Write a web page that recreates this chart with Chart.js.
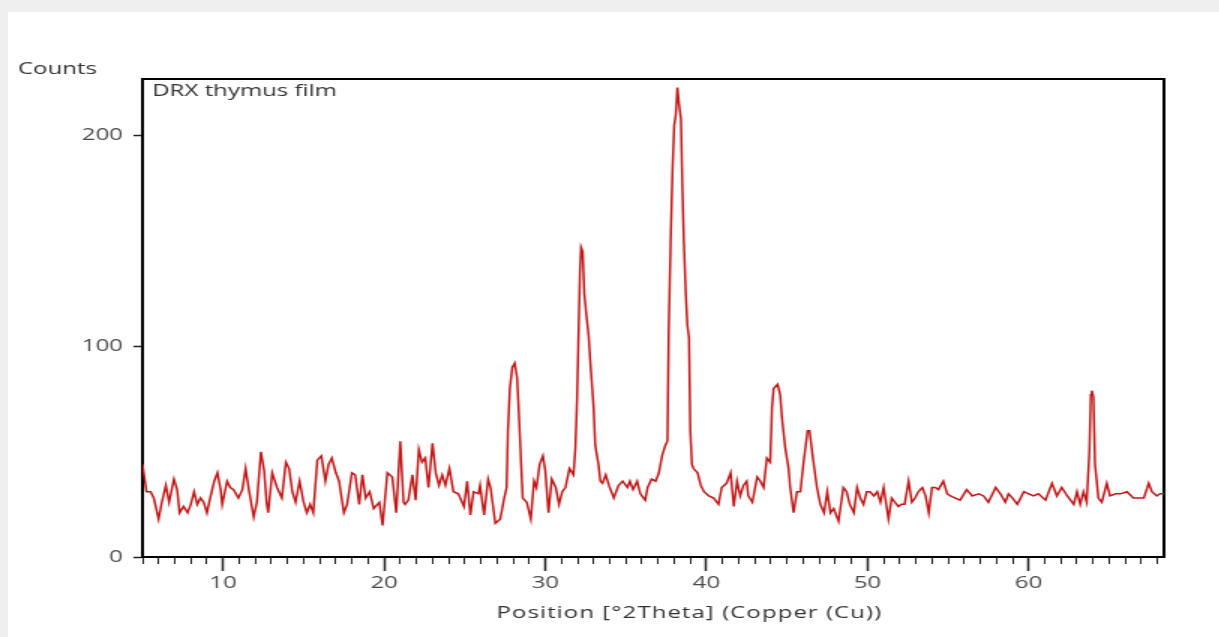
<!DOCTYPE html>
<html>
<head>
<meta charset="utf-8">
<script src="https://cdn.jsdelivr.net/npm/chart.js@4.4.1/dist/chart.umd.min.js"></script>
<style>
  html, body { margin: 0; padding: 0; background: #efefef; }
  body { width: 1219px; height: 637px; position: relative; overflow: hidden; }
  #panel { position: absolute; left: 8px; top: 12px; right: 0; bottom: 0; background: #fff; }
  /* the reference is a screenshot stretched sideways, so the canvas is too */
  #myChart { position: absolute; left: 0; top: 0; transform: scaleX(1.5); transform-origin: 0 0; }
</style>
</head>
<body>
<div id="panel"></div>
<canvas id="myChart" width="813" height="637"></canvas>
<script>
// 2Theta positions (deg) and counts
const positions = [
  5.0, 5.25, 5.5, 5.7, 6.0, 6.2, 6.45, 6.65, 6.95, 7.15, 7.3, 7.55, 7.8, 8.0, 8.2, 8.4, 8.6, 8.8, 9.0, 9.2,
  9.45, 9.65, 9.85, 9.95, 10.25, 10.45, 10.65, 10.95, 11.2, 11.4, 11.6, 11.9, 12.1, 12.35, 12.55, 12.7, 12.8, 13.05, 13.35, 13.65,
  13.9, 14.1, 14.3, 14.5, 14.75, 15.0, 15.2, 15.4, 15.6, 15.85, 16.1, 16.35, 16.55, 16.75, 17.0, 17.2, 17.5, 17.7, 18.0, 18.2,
  18.45, 18.65, 18.85, 19.1, 19.35, 19.7, 19.9, 20.2, 20.5, 20.75, 21.0, 21.2, 21.3, 21.5, 21.75, 21.95, 22.15, 22.35, 22.55, 22.75,
  23.0, 23.2, 23.4, 23.6, 23.8, 24.05, 24.3, 24.6, 24.95, 25.15, 25.35, 25.55, 25.85, 25.95, 26.2, 26.45, 26.6, 26.9, 27.2, 27.45,
  27.6, 27.68, 27.8, 27.95, 28.1, 28.25, 28.35, 28.5, 28.6, 28.85, 29.1, 29.3, 29.45, 29.65, 29.85, 30.0, 30.2, 30.4, 30.65, 30.85,
  31.05, 31.25, 31.5, 31.75, 31.87, 31.97, 32.07, 32.15, 32.22, 32.32, 32.42, 32.55, 32.69, 32.8, 33.0, 33.1, 33.3, 33.42, 33.55, 33.75,
  33.95, 34.25, 34.55, 34.8, 35.1, 35.25, 35.45, 35.7, 35.9, 36.2, 36.35, 36.6, 36.85, 37.05, 37.25, 37.45, 37.58, 37.66, 37.78, 37.9,
  38.0, 38.1, 38.2, 38.3, 38.42, 38.5, 38.6, 38.72, 38.82, 38.92, 39.0, 39.1, 39.2, 39.45, 39.65, 39.85, 40.15, 40.45, 40.75, 40.95,
  41.25, 41.5, 41.7, 41.9, 42.1, 42.3, 42.5, 42.6, 42.85, 43.15, 43.35, 43.55, 43.75, 43.96, 44.07, 44.17, 44.42, 44.58, 44.69, 44.89,
  45.1, 45.2, 45.41, 45.62, 45.83, 46.03, 46.28, 46.4, 46.61, 46.86, 47.07, 47.3, 47.5, 47.7, 47.9, 48.2, 48.5, 48.7, 48.9, 49.15,
  49.35, 49.55, 49.75, 49.95, 50.15, 50.4, 50.6, 50.8, 51.0, 51.3, 51.5, 51.7, 51.9, 52.1, 52.3, 52.55, 52.75, 52.95, 53.15, 53.4,
  53.6, 53.8, 54.0, 54.2, 54.4, 54.7, 54.95, 55.15, 55.45, 55.75, 56.15, 56.5, 56.9, 57.2, 57.5, 57.95, 58.25, 58.55, 58.75, 59.0,
  59.3, 59.7, 60.0, 60.3, 60.6, 61.05, 61.45, 61.75, 62.05, 62.4, 62.8, 63.0, 63.2, 63.4, 63.6, 63.77, 63.86, 63.92, 64.02, 64.12,
  64.33, 64.54, 64.85, 65.05, 65.4, 65.7, 66.1, 66.5, 66.8, 67.15, 67.45, 67.65, 67.95, 68.15, 68.4,
];
const counts = [
  44, 31, 31, 28, 18, 26, 34, 26, 37, 32, 21, 24, 21, 25, 31, 25, 28, 26, 21, 28,
  36, 40, 32, 25, 36, 33, 32, 28, 32, 42, 32, 19, 26, 50, 41, 26, 21, 40, 33, 28,
  45, 42, 31, 26, 36, 26, 21, 25, 21, 46, 48, 36, 44, 47, 40, 36, 21, 25, 40, 39,
  25, 39, 28, 31, 23, 26, 15, 40, 38, 21, 55, 26, 25, 27, 39, 27, 51, 45, 47, 33,
  54, 40, 34, 39, 34, 42, 31, 30, 24, 36, 20, 31, 30, 34, 20, 37, 33, 16, 18, 28,
  33, 60, 80, 90, 92, 85, 70, 44, 28, 26, 18, 36, 33, 44, 48, 41, 21, 37, 33, 25,
  31, 33, 42, 39, 52, 75, 108, 135, 147, 145, 125, 115, 105, 92, 71, 53, 44, 36, 35, 39,
  34, 28, 34, 36, 33, 36, 32, 36, 30, 27, 33, 37, 36, 40, 48, 53, 55, 107, 150, 185,
  205, 210, 223, 215, 208, 178, 150, 125, 110, 104, 60, 44, 42, 40, 34, 31, 29, 28, 25, 33,
  35, 40, 24, 36, 29, 34, 36, 29, 26, 38, 36, 33, 47, 45, 71, 80, 82, 77, 66, 52,
  42, 33, 21, 31, 31, 45, 60, 60, 47, 33, 25, 21, 31, 21, 23, 17, 33, 31, 25, 21,
  33, 28, 25, 31, 31, 29, 31, 26, 33, 18, 28, 26, 24, 25, 25, 36, 26, 28, 31, 33,
  29, 21, 33, 33, 32, 36, 30, 29, 28, 27, 32, 29, 30, 29, 26, 33, 30, 26, 30, 28,
  25, 31, 30, 29, 30, 27, 35, 29, 33, 29, 25, 31, 25, 31, 26, 50, 77, 79, 76, 44,
  28, 26, 35, 29, 30, 30, 31, 28, 28, 28, 35, 31, 29, 30, 30,
];
const xRange = [5, 68.4];
const yRange = [0, 227];
const yTicks = [0, 100, 200];

Chart.defaults.font.family = "'Open Sans', sans-serif";
Chart.defaults.font.size = 16;

const captions = {
  id: "captions",
  afterDraw(chart) {
    const { ctx, chartArea } = chart;
    ctx.save();
    ctx.font = "16px 'Open Sans'";
    ctx.fillStyle = "#333";
    ctx.textBaseline = "alphabetic";
    ctx.fillText("Counts", 12, 74);
    ctx.fillText("DRX thymus film", chartArea.left + 6.5, chartArea.top + 17);
    ctx.letterSpacing = "0.7px";
    ctx.fillText("Position [°2Theta] (Copper (Cu))", 331, 618);
    ctx.restore();
  },
};

const chart = new Chart(document.getElementById("myChart"), {
  type: "line",
  plugins: [captions],
  data: {
    datasets: [
      {
        label: "DRX thymus film",
        data: positions.map((p, i) => ({ x: p, y: counts[i] })),
        borderColor: "#c41616",
        borderWidth: 1.5,
        pointRadius: 0,
        tension: 0,
        fill: false,
      },
    ],
  },
  options: {
    responsive: false,
    animation: false,
    layout: { padding: { left: 0, top: 79, right: 37, bottom: 0 } },
    plugins: {
      legend: { display: false },
      tooltip: { enabled: false },
    },
    scales: {
      x: {
        type: "linear",
        position: "bottom",
        weight: 1,
        min: xRange[0],
        max: xRange[1],
        ticks: { stepSize: 10, includeBounds: false, autoSkip: false, maxRotation: 0, color: "#4a4a4a", padding: 3 },
        grid: { drawOnChartArea: false, tickLength: 14, tickWidth: 1.5, tickColor: "#222" },
        border: { color: "#000", width: 2 },
        afterFit: (s) => { s.height = 80; },
      },
      xMinor: {
        type: "linear",
        position: "bottom",
        weight: 0,
        min: xRange[0],
        max: xRange[1],
        ticks: { stepSize: 1, includeBounds: false, autoSkip: false, display: false },
        grid: { drawOnChartArea: false, tickLength: 7, tickWidth: 1, tickColor: "#222" },
        border: { display: false },
        afterFit: (s) => { s.height = 0; },
      },
      xTop: {
        type: "linear",
        position: "top",
        min: xRange[0],
        max: xRange[1],
        ticks: { display: false },
        grid: { display: false },
        border: { color: "#000", width: 2 },
        afterFit: (s) => { s.height = 0; },
      },
      y: {
        min: yRange[0],
        max: yRange[1],
        afterBuildTicks: (s) => { s.ticks = yTicks.map((v) => ({ value: v })); },
        ticks: { color: "#4a4a4a", padding: 7 },
        grid: { drawOnChartArea: false, tickLength: 6, tickWidth: 1.5, tickColor: "#222" },
        border: { color: "#000", width: 2 },
        afterFit: (s) => { s.width = 95; },
      },
      yRight: {
        position: "right",
        min: yRange[0],
        max: yRange[1],
        ticks: { display: false },
        grid: { display: false },
        border: { color: "#000", width: 2 },
        afterFit: (s) => { s.width = 0; },
      },
    },
  },
});
</script>
</body>
</html>
